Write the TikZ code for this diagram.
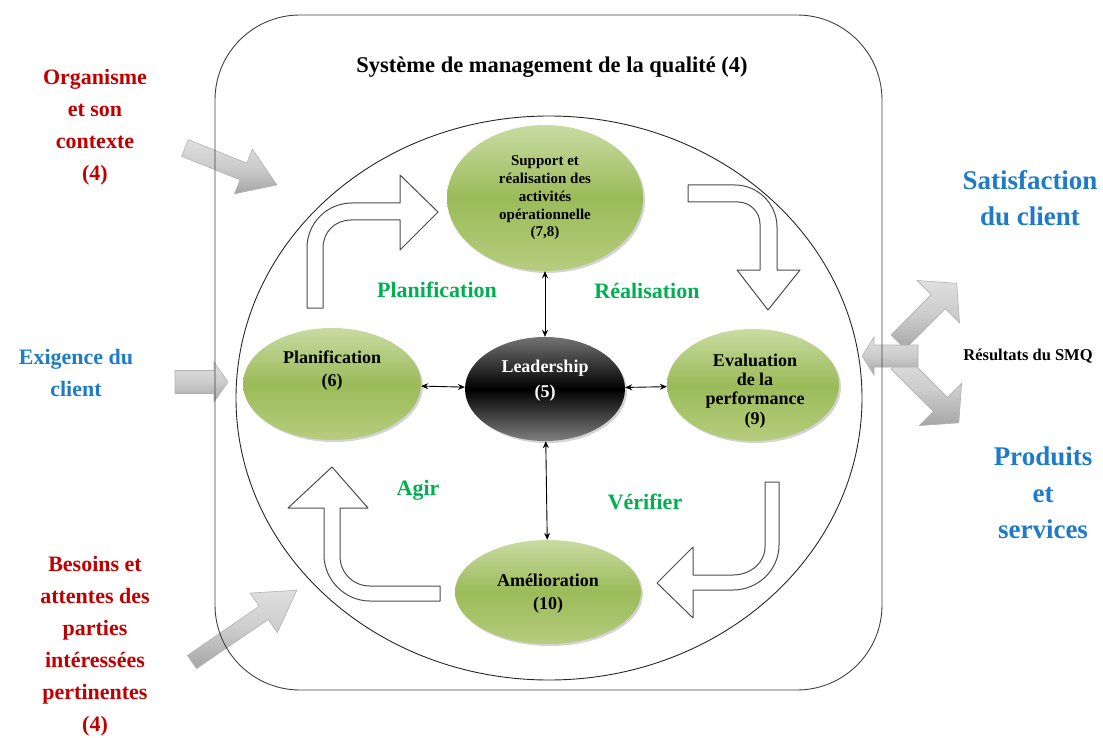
\documentclass[tikz,border=0pt]{standalone}
\usepackage{fontspec}
\setmainfont{Liberation Serif}
\usetikzlibrary{shapes.geometric,shadows,arrows.meta}
\definecolor{redt}{HTML}{C00000}
\definecolor{bluet}{HTML}{1F7BC8}
\definecolor{greent}{HTML}{00B050}
\definecolor{gtop}{HTML}{C8DBA2}
\definecolor{gmid}{HTML}{9BBB59}
\definecolor{gbot}{HTML}{B6CD7E}
\newcommand{\garrow}[6]{%
 \begin{scope}[shift={#1}, rotate=#2]
  \path[garrowstyle] (0,-#4) -- ({#3-#6},-#4) -- ({#3-#6},-#5) -- (#3,0) -- ({#3-#6},#5) -- ({#3-#6},#4) -- (0,#4) -- cycle;
 \end{scope}}
\begin{document}
\begin{tikzpicture}[x=1pt,y=-1pt,
  greenell/.style={ellipse, inner sep=0pt, top color=gtop, bottom color=gbot, middle color=gmid,
    drop shadow={shadow xshift=2pt,shadow yshift=-2pt,opacity=0.35}},
  blackell/.style={ellipse, inner sep=0pt, top color=black!55, bottom color=black!50, middle color=black,
    drop shadow={shadow xshift=2pt,shadow yshift=-2pt,opacity=0.35}},
  elltext/.style={align=center, inner sep=0pt, font=\bfseries\fontsize{18}{23}\selectfont},
  redlab/.style={align=center, inner sep=0pt, text=redt, font=\bfseries\fontsize{22}{32}\selectfont},
  bluelab/.style={align=center, inner sep=0pt, text=bluet, font=\bfseries\fontsize{22}{32}\selectfont},
  bigblue/.style={align=center, inner sep=0pt, text=bluet, font=\bfseries\fontsize{27}{36.5}\selectfont},
  greenlab/.style={inner sep=0pt, text=greent, font=\bfseries\fontsize{22}{26}\selectfont},
  garrowstyle/.style={top color=gray!25, bottom color=gray!70, middle color=gray!40, draw=gray!60, line width=0.6pt},
  warrow/.style={draw=black!70, line width=1pt, fill=white, line join=round},
  link/.style={{Stealth[length=7pt,width=6pt]}-{Stealth[length=7pt,width=6pt]}, line width=0.9pt},
]
\useasboundingbox (0,0) rectangle (1103,738);

% cycle ellipse
\node[draw=black!85, line width=0.9pt, ellipse, inner sep=0pt, minimum width=626pt, minimum height=564pt] (cycle) at (549,398) {};

% gray block arrows
\garrow{(185,148)}{-21.9}{99}{9}{24}{36}
\garrow{(175,382)}{0}{53}{11.5}{20}{14}
\garrow{(192,662)}{34.4}{127}{8}{24}{40}
\garrow{(898,342)}{45}{83}{10}{30}{26}
\garrow{(898,362)}{-45}{86}{10}{30}{26}
\garrow{(918,356)}{180}{56}{11}{19}{12}

% system frame
\node[draw=black!75, line width=0.9pt, rounded corners=85pt, minimum width=667pt, minimum height=675pt, inner sep=0pt] (smq) at (548.5,352.5) {};
\node[inner sep=0pt, font=\bfseries\fontsize{22.5}{26}\selectfont] (title) at (552,67) {Système de management de la qualité (4)};

% white curved arrows
\path[warrow] (307,308) -- (307,248) .. controls (307,223) and (327,203) .. (352,203) -- (400,203) -- (400,175) -- (438,212) -- (400,250) -- (400,220) -- (351,220) .. controls (335,220) and (323,232) .. (323,248) -- (323,308) -- cycle;
\path[warrow] (688,185) -- (735,185) .. controls (758,185) and (777,204) .. (777,227) -- (777,270) -- (800,270) -- (768,310) -- (737,270) -- (760,270) -- (760,224) .. controls (760,212) and (750,202) .. (738,202) -- (688,202) -- cycle;
\path[warrow] (765,482) -- (779,482) -- (779,545) .. controls (779,570) and (758,590) .. (733,590) -- (693,590) -- (693,618) -- (657,583) -- (693,547) -- (693,575) -- (733,575) .. controls (750,575) and (765,563) .. (765,547) -- cycle;
\path[warrow] (440,586) -- (370,586) .. controls (353,586) and (340,573) .. (340,556) -- (340,508) -- (368,508) -- (332,467) -- (288,508) -- (324,508) -- (324,555) .. controls (324,580) and (345,601) .. (370,601) -- (440,601) -- cycle;

% ellipses
\node[greenell, minimum width=196pt, minimum height=146pt] (supp) at (545,198) {};
\node[elltext, font=\bfseries\fontsize{15}{17.7}\selectfont] (supptxt) at (545,198) {Support et\\réalisation des\\activités\\opérationnelle\\(7,8)};
\node[greenell, minimum width=178pt, minimum height=112pt] (plan) at (332,384) {};
\node[elltext] (plantxt) at (332,371) {Planification\\(6)};
\node[blackell, minimum width=160pt, minimum height=104pt] (lead) at (545,389) {};
\node[elltext, text=white, font=\bfseries\fontsize{18}{25}\selectfont] (leadtxt) at (545,381) {Leadership\\(5)};
\node[greenell, minimum width=172pt, minimum height=112pt] (eval) at (753,385) {};
\node[elltext, font=\bfseries\fontsize{18}{19.3}\selectfont] (evaltxt) at (755,391) {Evaluation\\de la\\performance\\(9)};
\node[greenell, minimum width=186pt, minimum height=104pt] (amel) at (548,592) {};
\node[elltext] (ameltxt) at (548,594) {Amélioration\\(10)};

% links
\draw[link] (plan) -- (lead);
\draw[link] (lead) -- (eval);
\draw[link] (supp) -- (lead);
\draw[link] (lead) -- (amel);

% green labels
\node[greenlab] (lplan) at (437,290) {Planification};
\node[greenlab] (lreal) at (647,291) {Réalisation};
\node[greenlab] (lagir) at (418,490) {Agir};
\node[greenlab] (lverif) at (645,502) {Vérifier};

% outside labels
\node[redlab] (org) at (95,127) {Organisme\\et son\\contexte\\(4)};
\node[bluelab] (exig) at (76,373) {Exigence du\\client};
\node[redlab] (bes) at (95,646) {Besoins et\\attentes des\\parties\\intéressées\\pertinentes\\(4)};
\node[bigblue] (sat) at (1030,198) {Satisfaction\\du client};
\node[bigblue] (prod) at (1043,493) {Produits\\et\\services};
\node[inner sep=0pt, font=\bfseries\fontsize{16.5}{18}\selectfont] (res) at (1028,356) {Résultats du SMQ};
\end{tikzpicture}
\end{document}
